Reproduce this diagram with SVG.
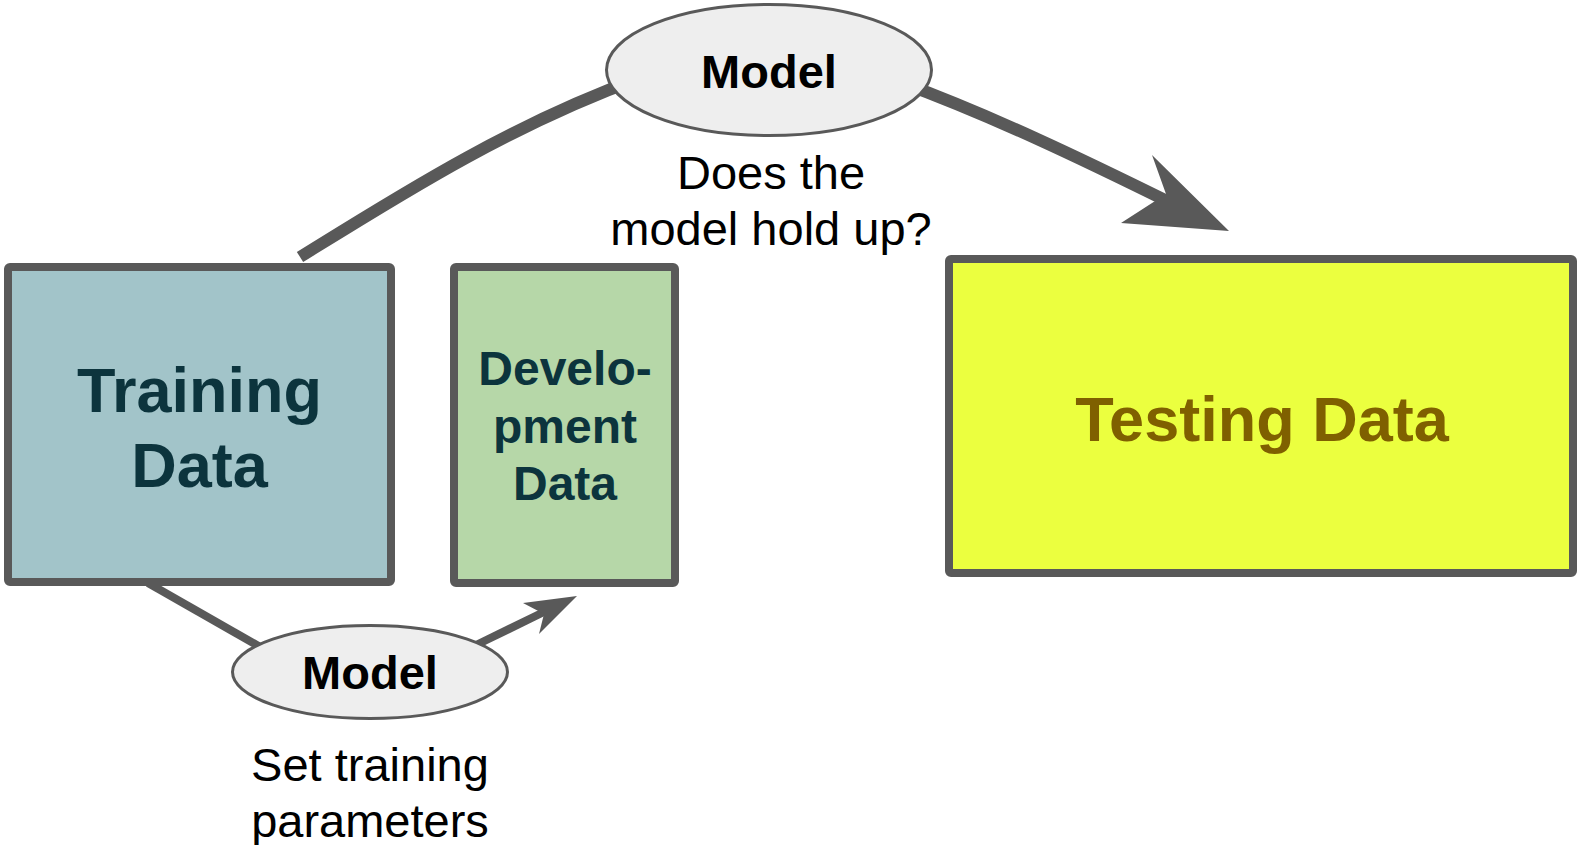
<svg xmlns="http://www.w3.org/2000/svg" width="1578" height="845" viewBox="0 0 1578 845">
<style>
.box{stroke:#595959;stroke-width:8}
.ell{fill:#eeeeee;stroke:#595959;stroke-width:3}
.conn{fill:none;stroke:#595959;stroke-linecap:butt}
.head{fill:#595959}
text{font-family:"Liberation Sans",Arial,sans-serif;text-anchor:middle}
.b{font-weight:bold}
.lbl{font-size:47px;fill:#000000}
</style>
<rect width="1578" height="845" fill="#ffffff"/>
<g id="connectors">
<path class="conn" stroke-width="12" d="M300,257 C400,195 510,125 640,78"/>
<path class="conn" stroke-width="12" d="M900,82 C990,115 1080,158 1175,205"/>
<polygon class="head" points="1229,231 1152,155 1166,194 1121,223"/>
<path class="conn" stroke-width="8" d="M148,583 L262,648"/>
<path class="conn" stroke-width="8" d="M470,648 L552,608"/>
<polygon class="head" points="577,596 523,603 544,614 539,634"/>
</g>
<g id="training">
<rect class="box" x="8" y="267" width="383" height="315" rx="2" fill="#a2c4c9"/>
<text class="b" x="199.5" y="412" font-size="63" fill="#0c343d">Training</text>
<text class="b" x="199.5" y="487" font-size="63" fill="#0c343d">Data</text>
</g>
<g id="development">
<rect class="box" x="454" y="267" width="221" height="316" rx="2" fill="#b6d7a8"/>
<text class="b" x="565" y="385" font-size="48" fill="#0c343d">Develo-</text>
<text class="b" x="565" y="443" font-size="48" fill="#0c343d">pment</text>
<text class="b" x="565" y="500" font-size="48" fill="#0c343d">Data</text>
</g>
<g id="testing">
<rect class="box" x="949" y="259" width="624" height="314" rx="2" fill="#ebff3f"/>
<text class="b" x="1262" y="441" font-size="63" fill="#7f6000">Testing Data</text>
</g>
<g id="model-top">
<ellipse class="ell" cx="769" cy="70" rx="162.5" ry="65.5"/>
<text class="b lbl" x="769" y="88">Model</text>
<text class="lbl" x="771" y="189">Does the</text>
<text class="lbl" x="771" y="245">model hold up?</text>
</g>
<g id="model-bottom">
<ellipse class="ell" cx="370" cy="672" rx="137.5" ry="46.5"/>
<text class="b lbl" x="370" y="689">Model</text>
<text class="lbl" x="370" y="781">Set training</text>
<text class="lbl" x="370" y="837">parameters</text>
</g>
</svg>
